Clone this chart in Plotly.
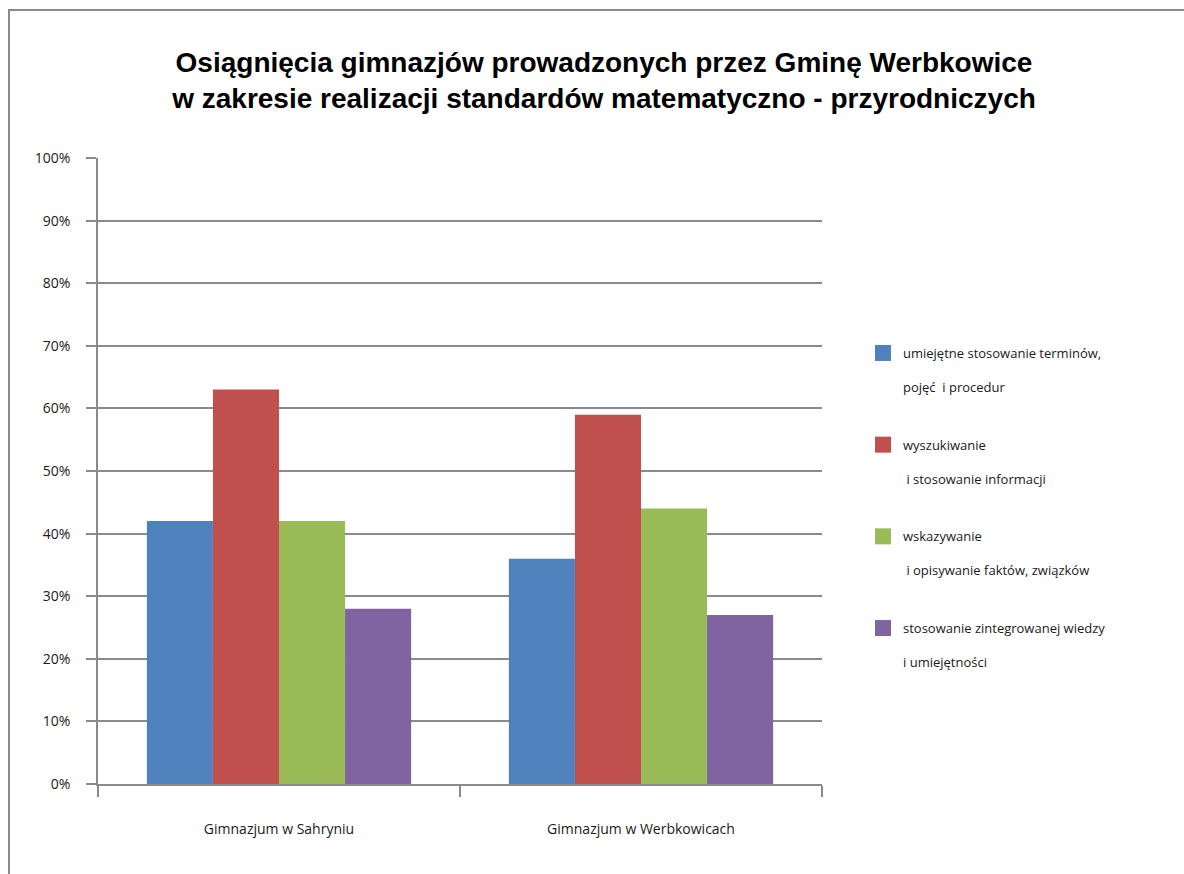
import plotly.graph_objects as go

W, H = 1184, 874

categories = ["Gimnazjum w Sahryniu", "Gimnazjum w Werbkowicach"]
series_names = [
    "umiejętne stosowanie terminów,<br> <br>pojęć  i procedur",
    "wyszukiwanie<br> <br> i stosowanie informacji",
    "wskazywanie<br> <br> i opisywanie faktów, związków",
    "stosowanie zintegrowanej wiedzy<br> <br>i umiejętności",
]
values = [
    [0.42, 0.36],
    [0.63, 0.59],
    [0.42, 0.44],
    [0.28, 0.27],
]
colors = ["#4F81BD", "#C0504D", "#9BBB59", "#8064A2"]
y_ticks = [i / 10 for i in range(11)]
y_tick_labels = [f"{i*10}%" for i in range(11)]

fig = go.Figure()
for i, (name, vals, col) in enumerate(zip(series_names, values, colors)):
    fig.add_trace(go.Bar(
        x=categories, y=vals, name=name, marker=dict(color=col, line=dict(width=0)),
        showlegend=False,
    ))
# legend entries (square swatches)
for i, (name, col) in enumerate(zip(series_names, colors)):
    fig.add_trace(go.Scatter(
        x=[None], y=[None], mode="markers", name=name,
        marker=dict(symbol="square", size=19, color=col, line=dict(width=0)),
        legendgroup=f"g{i}", showlegend=True,
    ))

px = lambda v: v / W
py = lambda v: 1 - v / H

axis_col = "#8a8a8a"
txt_col = "#1a1a1a"

fig.update_layout(
    width=W, height=H,
    margin=dict(l=0, r=0, t=0, b=0),
    paper_bgcolor="white", plot_bgcolor="white",
    barmode="group", bargap=0.27, bargroupgap=0,
    font=dict(family="Open Sans", color=txt_col, size=13),
    title=dict(
        text="Osiągnięcia gimnazjów prowadzonych przez Gminę Werbkowice<br>w zakresie realizacji standardów matematyczno - przyrodniczych",
        font=dict(family="Liberation Sans", size=28, color="black", weight="bold"),
        x=px(604), xanchor="center", y=py(72), yanchor="middle",
        automargin=False,
    ),
    xaxis=dict(
        domain=[px(98), px(822)],
        showline=True, linecolor=axis_col, linewidth=1.5,
        ticks="outside", tickson="boundaries", ticklen=11, tickcolor=axis_col, tickwidth=1.5,
        tickfont=dict(size=14, family="Open Sans", color=txt_col),
        ticklabelstandoff=31,
        showgrid=False, automargin=False,
    ),
    yaxis=dict(
        domain=[py(784), py(158)],
        range=[0, 1], tickvals=y_ticks, ticktext=y_tick_labels,
        showline=True, linecolor=axis_col, linewidth=1.5,
        ticks="outside", ticklen=10, tickcolor=axis_col, tickwidth=1.5,
        showgrid=True, gridcolor=axis_col, gridwidth=1.5,
        tickfont=dict(size=14, family="Open Sans", color=txt_col),
        ticklabelstandoff=13,
        zeroline=False, automargin=False,
    ),
    legend=dict(
        x=px(863), xanchor="left", y=py(338), yanchor="top",
        font=dict(size=13, family="Open Sans", color=txt_col),
        valign="top", tracegroupgap=38, itemsizing="trace",
        itemwidth=30, bgcolor="rgba(0,0,0,0)",
    ),
    shapes=[dict(
        type="rect", xref="paper", yref="paper",
        x0=px(9), x1=px(1190), y0=py(880), y1=py(10),
        line=dict(color="#8a8a8a", width=2), fillcolor="rgba(0,0,0,0)",
    )],
)

fig.write_html(
    "out.html",
    config={"displayModeBar": False},
    post_script="document.body.style.margin='0';document.body.style.overflow='hidden';",
)
